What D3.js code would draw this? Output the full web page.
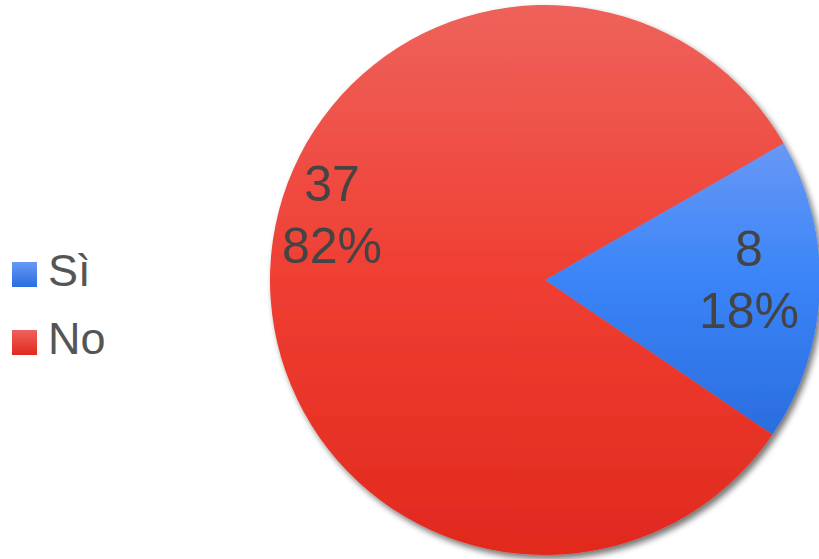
<!DOCTYPE html>
<html>
<head>
<meta charset="utf-8">
<script src="https://cdn.jsdelivr.net/npm/d3@7/dist/d3.min.js"></script>
<style>
  html, body { margin: 0; padding: 0; background: #fff; }
  svg { display: block; font-family: "Liberation Sans", Arial, sans-serif; }
</style>
</head>
<body>
<svg id="chart" width="819" height="559"></svg>
<script>
// Answers
const categories = ["Sì", "No"];
const values = [8, 37];

const W = 819, H = 559;
const cx = 545, cy = 280, R = 275;
const startDeg = 60.2;

const svg = d3.select("#chart");
const defs = svg.append("defs");

// Soft drop shadow under the pie
const f = defs.append("filter").attr("id", "shadow")
  .attr("x", "-10%").attr("y", "-10%").attr("width", "120%").attr("height", "120%");
f.append("feGaussianBlur").attr("in", "SourceAlpha").attr("stdDeviation", 3).attr("result", "b");
f.append("feOffset").attr("in", "b").attr("dx", 3).attr("dy", 4).attr("result", "o");
f.append("feComponentTransfer").attr("in", "o").attr("result", "s")
  .append("feFuncA").attr("type", "linear").attr("slope", 0.55);
const m = f.append("feMerge");
m.append("feMergeNode").attr("in", "s");
m.append("feMergeNode").attr("in", "SourceGraphic");

// Vertical gradients per series
const gradStops = {
  "Sì": [["0%", "#6898f5"], ["45%", "#3b85f8"], ["100%", "#2a6ddf"]],
  "No": [["0%", "#ee625b"], ["50%", "#ef3e32"], ["100%", "#e1291e"]]
};
categories.forEach((c, i) => {
  const g = defs.append("linearGradient").attr("id", "g" + i)
    .attr("x1", 0).attr("y1", 0).attr("x2", 0).attr("y2", 1);
  gradStops[c].forEach(([o, col]) => g.append("stop").attr("offset", o).attr("stop-color", col));
});
// legend swatch gradients
categories.forEach((c, i) => {
  const g = defs.append("linearGradient").attr("id", "lg" + i)
    .attr("x1", 0).attr("y1", 0).attr("x2", 0).attr("y2", 1);
  g.append("stop").attr("offset", "0%").attr("stop-color", gradStops[c][0][1]);
  g.append("stop").attr("offset", "100%").attr("stop-color", gradStops[c][2][1]);
});

const total = d3.sum(values);
const data = categories.map((c, i) => ({ name: c, value: values[i], i }));

const pie = d3.pie().sort(null).value(d => d.value)
  .startAngle(startDeg * Math.PI / 180)
  .endAngle(startDeg * Math.PI / 180 + 2 * Math.PI);
const arcs = pie(data);
const arc = d3.arc().innerRadius(0).outerRadius(R);

const gPie = svg.append("g").attr("transform", `translate(${cx},${cy})`);
gPie.append("g").attr("filter", "url(#shadow)")
  .selectAll("path").data(arcs).join("path")
  .attr("d", arc)
  .attr("fill", d => `url(#g${d.data.i})`);

// Value + percentage labels (radius fraction and angular nudge per slice)
const labelPlace = { "Sì": { r: 0.742, shift: -0.065 }, "No": { r: 0.815, shift: 0.277 } };
const fmtPct = d3.format(".0%");
arcs.forEach(d => {
  const p = labelPlace[d.data.name];
  const a = (d.startAngle + d.endAngle) / 2 + p.shift;
  const x = Math.sin(a) * R * p.r;
  const y = -Math.cos(a) * R * p.r;
  const t = gPie.append("text")
    .attr("text-anchor", "middle")
    .attr("fill", "#444")
    .attr("font-size", 50);
  t.append("tspan").attr("x", x).attr("y", y - 9).text(d.value);
  t.append("tspan").attr("x", x).attr("y", y + 53).text(fmtPct(d.value / total));
});

// Legend
const lg = svg.append("g");
const items = lg.selectAll("g").data(data).join("g")
  .attr("transform", (d, i) => `translate(12,${262 + i * 68})`);
items.append("rect").attr("width", 25).attr("height", 25)
  .attr("fill", d => `url(#lg${d.i})`);
items.append("text").attr("x", 36).attr("y", 24)
  .attr("font-size", 45).attr("fill", "#555")
  .text(d => d.name);
</script>
</body>
</html>
